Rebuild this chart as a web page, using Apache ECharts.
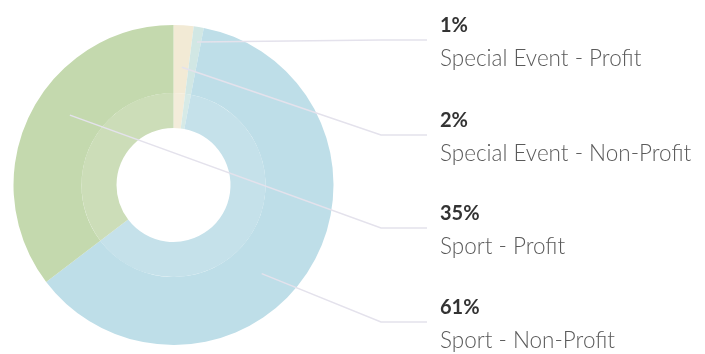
<!DOCTYPE html>
<html>
<head>
<meta charset="utf-8">
<script src="https://cdn.jsdelivr.net/npm/echarts@6/dist/echarts.min.js"></script>
<style>
  html, body { margin: 0; padding: 0; background: #ffffff; }
  #chart { width: 705px; height: 354px; }
</style>
</head>
<body>
<div id="chart"></div>
<script>
// Segments in clockwise order from 12 o'clock
var categories = ['Special Event - Non-Profit', 'Special Event - Profit', 'Sport - Non-Profit', 'Sport - Profit'];
var shares = [2, 1, 61, 35];

// Styling
var outerColors = ['#F2EAD5', '#D1E7E4', '#BEDEE8', '#C4D9AE'];
var innerColors = ['#F3ECDA', '#D6EAE7', '#C5E1EA', '#CCDDB8'];
// Which legend row each segment's label sits in (rows listed top to bottom)
var labelRow = [1, 0, 3, 2];
var rowLineY = [40, 135, 228, 322];
// Radius at which each leader line leaves its segment
var anchorRadius = [118, 145, 125, 125];
var anchorFraction = 0.56;

var cx = 173.5, cy = 185;
var total = shares.reduce(function (a, b) { return a + b; }, 0);

function anchorPoint(i) {
  var before = 0;
  for (var k = 0; k < i; k++) before += shares[k];
  var theta = (before + anchorFraction * shares[i]) / total * 2 * Math.PI;
  var r = anchorRadius[i];
  return [cx + r * Math.sin(theta), cy - r * Math.cos(theta)];
}

function pieData() {
  return categories.map(function (c, i) { return { name: c, value: shares[i] }; });
}

var ringBase = {
  type: 'pie',
  silent: true,
  center: [cx, cy],
  startAngle: 90,
  clockwise: true,
  label: { show: false },
  labelLine: { show: false }
};

var chart = echarts.init(document.getElementById('chart'), null, { renderer: 'canvas' });

var option = {
  backgroundColor: '#ffffff',
  animation: false,
  series: [
    // lighter inner band
    Object.assign({}, ringBase, {
      z: 1,
      radius: [57, 92],
      itemStyle: { borderWidth: 0, color: function (p) { return innerColors[p.dataIndex]; } },
      data: pieData()
    }),
    // outer band
    Object.assign({}, ringBase, {
      z: 1,
      radius: [92, 160],
      itemStyle: { borderWidth: 0, color: function (p) { return outerColors[p.dataIndex]; } },
      data: pieData()
    }),
    // transparent ring on top that carries the labels and leader lines
    Object.assign({}, ringBase, {
      z: 5,
      radius: [57, 160],
      avoidLabelOverlap: false,
      itemStyle: { borderWidth: 0, color: 'rgba(255,255,255,0)' },
      label: {
        show: true,
        position: 'outside',
        formatter: function (p) { return '{pct|' + p.value + '%}\n{name|' + p.name + '}'; },
        rich: {
          pct: {
            fontFamily: 'Lato',
            fontWeight: 'bold',
            fontSize: 20,
            color: '#333333',
            lineHeight: 34
          },
          name: {
            fontFamily: 'Lato',
            fontWeight: 300,
            fontSize: 22.5,
            color: '#5a5a5a',
            lineHeight: 31
          }
        }
      },
      labelLine: {
        show: true,
        lineStyle: { color: '#E4E2EC', width: 1.5 }
      },
      labelLayout: function (params) {
        var i = params.dataIndex;
        var y = rowLineY[labelRow[i]];
        return {
          x: 440,
          y: y - 31,
          align: 'left',
          verticalAlign: 'top',
          labelLinePoints: [anchorPoint(i), [381, y], [427, y]]
        };
      },
      data: pieData()
    })
  ]
};

chart.setOption(option);
</script>
</body>
</html>
